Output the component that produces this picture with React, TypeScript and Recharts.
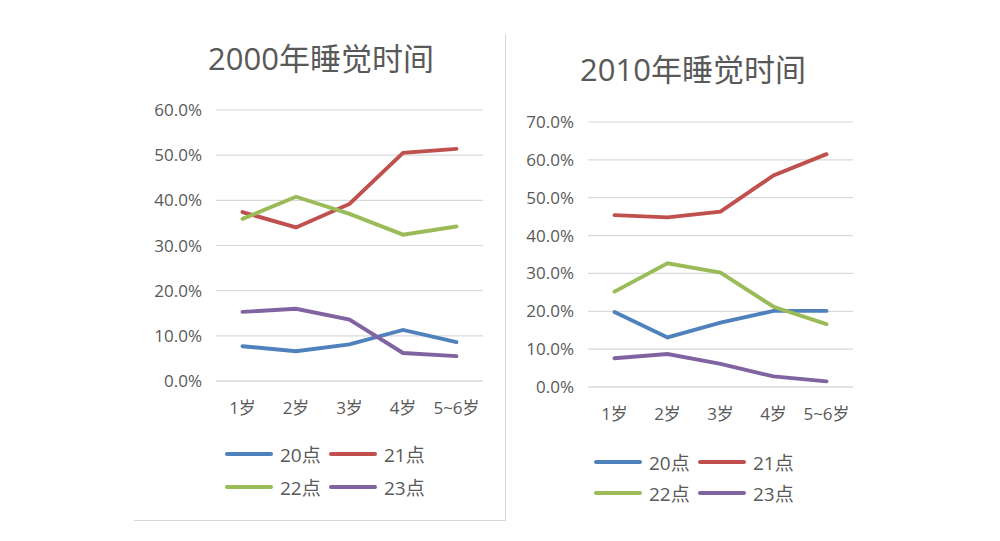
import { LineChart, Line, XAxis, YAxis, CartesianGrid, Legend } from 'recharts'

const ages = ['1岁', '2岁', '3岁', '4岁', '5~6岁']
const seriesNames = ['20点', '21点', '22点', '23点']
const seriesColors = ['#4F81BD', '#C0504D', '#9BBB59', '#8064A2']

// 2000, share of children asleep by hour (%)
const y2000_20 = [7.7, 6.6, 8.1, 11.3, 8.6]
const y2000_21 = [37.4, 34.0, 39.2, 50.5, 51.4]
const y2000_22 = [35.9, 40.8, 37.0, 32.4, 34.2]
const y2000_23 = [15.3, 16.0, 13.6, 6.2, 5.5]

// 2010
const y2010_20 = [19.8, 13.1, 17.0, 20.1, 20.1]
const y2010_21 = [45.4, 44.8, 46.3, 55.9, 61.5]
const y2010_22 = [25.2, 32.7, 30.2, 21.2, 16.6]
const y2010_23 = [7.6, 8.7, 6.1, 2.8, 1.5]

const ticks2000 = [0, 10, 20, 30, 40, 50, 60]
const ticks2010 = [0, 10, 20, 30, 40, 50, 60, 70]

const font = "'Open Sans', 'Noto Sans CJK SC', sans-serif"
const ink = '#595959'
const grid = '#d9d9d9'

function buildRows(series: number[][]) {
  return ages.map((age, i) => {
    const row: Record<string, string | number> = { age }
    series.forEach((s, k) => {
      row[seriesNames[k]] = s[i]
    })
    return row
  })
}

function LegendGrid({ payload, rowGap }: { payload?: any[]; rowGap: number }) {
  return (
    <div
      style={{
        display: 'grid',
        gridTemplateColumns: '104px 104px',
        rowGap,
        fontFamily: font,
        fontSize: 19,
        color: ink,
      }}
    >
      {(payload ?? []).map((p) => (
        <div key={p.value} style={{ display: 'flex', alignItems: 'center', height: 24 }}>
          <span
            style={{ width: 48, height: 4, background: p.color, borderRadius: 2, marginRight: 7 }}
          />
          <span>{p.value}</span>
        </div>
      ))}
    </div>
  )
}

interface PanelProps {
  left: number
  width: number
  series: number[][]
  ticks: number[]
  yWidth: number
  margin: { top: number; right: number; bottom: number; left: number }
  legendPos: { left: number; top: number }
  legendGap: number
}

function Panel({ left, width, series, ticks, yWidth, margin, legendPos, legendGap }: PanelProps) {
  const data = buildRows(series)
  return (
    <div style={{ position: 'absolute', left, top: 0 }}>
      <LineChart width={width} height={541} data={data} margin={margin}>
        <CartesianGrid vertical={false} stroke={grid} strokeWidth={1.2} />
        <XAxis
          dataKey="age"
          height={30}
          padding={{ left: 26.5, right: 26.5 }}
          tickLine={false}
          axisLine={{ stroke: grid, strokeWidth: 1.2 }}
          tickMargin={15}
          tick={{ fill: ink, fontSize: 17, fontFamily: font }}
        />
        <YAxis
          width={yWidth}
          domain={[0, ticks[ticks.length - 1]]}
          ticks={ticks}
          tickLine={false}
          axisLine={false}
          tickMargin={8}
          tickFormatter={(v: number) => v.toFixed(1) + '%'}
          tick={{ fill: ink, fontSize: 17, fontFamily: font }}
        />
        <Legend
          layout="horizontal"
          verticalAlign="middle"
          align="center"
          width={220}
          wrapperStyle={{ left: legendPos.left, top: legendPos.top }}
          content={(props: any) => <LegendGrid payload={props.payload} rowGap={legendGap} />}
        />
        {seriesNames.map((name, k) => (
          <Line
            key={name}
            type="linear"
            dataKey={name}
            stroke={seriesColors[k]}
            strokeWidth={3.9}
            strokeLinecap="round"
            dot={false}
            activeDot={false}
            isAnimationActive={false}
          />
        ))}
      </LineChart>
    </div>
  )
}

export default function App() {
  return (
    <div
      style={{
        position: 'absolute',
        left: 0,
        top: 0,
        width: 1000,
        height: 541,
        background: '#fff',
        overflow: 'hidden',
        fontFamily: font,
      }}
    >
      <div
        style={{
          position: 'absolute',
          left: 134,
          top: 34,
          width: 371,
          height: 486,
          borderRight: `1.5px solid ${grid}`,
          borderBottom: `1.5px solid ${grid}`,
        }}
      />
      <div
        style={{
          position: 'absolute',
          left: 208,
          top: 38,
          lineHeight: '40px',
          fontSize: 31,
          color: ink,
          whiteSpace: 'nowrap',
        }}
      >
        2000年睡觉时间
      </div>
      <div
        style={{
          position: 'absolute',
          left: 580,
          top: 49,
          lineHeight: '40px',
          fontSize: 31,
          color: ink,
          whiteSpace: 'nowrap',
        }}
      >
        2010年睡觉时间
      </div>
      <Panel
        left={0}
        width={510}
        series={[y2000_20, y2000_21, y2000_22, y2000_23]}
        ticks={ticks2000}
        yWidth={216}
        margin={{ top: 110, right: 27, bottom: 130, left: 0 }}
        legendPos={{ left: 225, top: 442 }}
        legendGap={9}
      />
      <Panel
        left={510}
        width={490}
        series={[y2010_20, y2010_21, y2010_22, y2010_23]}
        ticks={ticks2010}
        yWidth={78}
        margin={{ top: 122, right: 147, bottom: 124, left: 0 }}
        legendPos={{ left: 84, top: 450 }}
        legendGap={7}
      />
    </div>
  )
}
